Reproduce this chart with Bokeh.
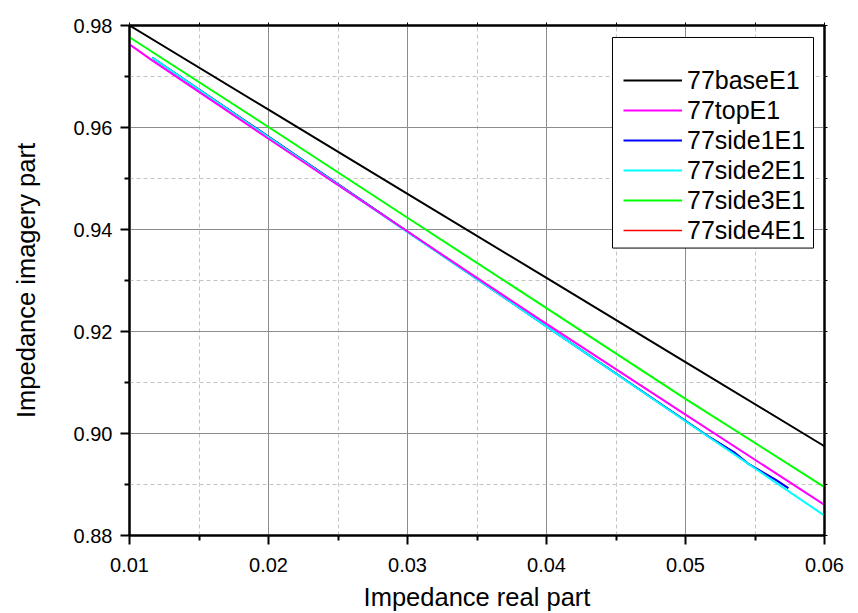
from bokeh.plotting import figure
from bokeh.models import (FixedTicker, LinearAxis, Legend, LegendItem, Range1d,
                          PrintfTickFormatter, CustomJSTickFormatter, BoxAnnotation)
from bokeh.embed import file_html
from bokeh.resources import INLINE

# ---------------- data ----------------
x_major = [0.01, 0.02, 0.03, 0.04, 0.05, 0.06]
x_minor = [0.015, 0.025, 0.035, 0.045, 0.055]
y_major = [0.88, 0.90, 0.92, 0.94, 0.96, 0.98]
y_minor = [0.89, 0.91, 0.93, 0.95, 0.97]

base_x = [0.01, 0.02, 0.03, 0.04, 0.05, 0.06]
base_y = [0.9800, 0.9635, 0.9470, 0.9305, 0.9140, 0.8975]

top_x = [0.01, 0.0116, 0.02, 0.03, 0.035, 0.04, 0.05, 0.06]
top_y = [0.9763, 0.9732, 0.9578, 0.9396, 0.9305, 0.9215, 0.9037, 0.8860]

side1_x = [0.01163, 0.02, 0.03, 0.04, 0.05, 0.0515, 0.0528, 0.0535, 0.0545, 0.0555, 0.0565, 0.0574]
side1_y = [0.9737, 0.9582, 0.9396, 0.9210, 0.9025, 0.8997, 0.8975, 0.8963, 0.8941, 0.8925, 0.8909, 0.8893]

side2_x = [0.01163, 0.02, 0.03, 0.04, 0.05, 0.06]
side2_y = [0.9737, 0.9581, 0.9395, 0.9210, 0.9024, 0.8839]

side3_x = [0.01, 0.02, 0.03, 0.04, 0.05, 0.06]
side3_y = [0.9777, 0.9601, 0.9423, 0.9246, 0.9068, 0.8895]

side4_x = side1_x
side4_y = side1_y

labels = ["77baseE1", "77topE1", "77side1E1", "77side2E1", "77side3E1", "77side4E1"]
colors = ["#000000", "#ff00ff", "#0000ff", "#00ffff", "#00ff00", "#ff0000"]

FONT = "Liberation Sans"

p = figure(width=858, height=613, x_range=Range1d(0.01, 0.06), y_range=Range1d(0.88, 0.98),
           output_backend="svg", toolbar_location=None,
           min_border_left=129, min_border_right=34, min_border_top=25, min_border_bottom=77,
           background_fill_color="white", border_fill_color="white")

p.outline_line_color = "black"
p.outline_line_width = 2

# axes
p.xaxis.ticker = FixedTicker(ticks=x_major, minor_ticks=x_minor)
p.yaxis.ticker = FixedTicker(ticks=y_major, minor_ticks=y_minor)
p.xaxis.formatter = PrintfTickFormatter(format="%.2f")
p.yaxis.formatter = PrintfTickFormatter(format="%.2f")
p.xaxis.axis_label = "Impedance real part"
p.yaxis.axis_label = "Impedance imagery part"
for ax in (p.xaxis[0], p.yaxis[0]):
    ax.axis_line_width = 2
    ax.axis_line_color = "black"
    ax.major_tick_line_width = 2
    ax.minor_tick_line_width = 2
    ax.major_tick_in = 0
    ax.major_tick_out = 9
    ax.minor_tick_in = 0
    ax.minor_tick_out = 5
    ax.major_label_text_font = FONT
    ax.major_label_text_font_size = "20px"
    ax.major_label_text_color = "black"
    ax.axis_label_text_font = FONT
    ax.axis_label_text_font_size = "25.5px"
    ax.axis_label_text_font_style = "normal"
    ax.axis_label_text_color = "black"
p.xaxis.major_label_standoff = 13
p.yaxis.major_label_standoff = 8
p.xaxis.axis_label_standoff = 8
p.yaxis.axis_label_standoff = 31

# opposite axes (no labels)
for loc, rng_ticks in (("right", (y_major, y_minor)), ("above", (x_major, x_minor))):
    ax = LinearAxis(ticker=FixedTicker(ticks=rng_ticks[0], minor_ticks=rng_ticks[1]),
                    formatter=CustomJSTickFormatter(code="return ''"),
                    axis_line_width=2, major_tick_in=0, major_tick_out=3,
                    minor_tick_in=0, minor_tick_out=3, major_tick_line_width=1,
                    minor_tick_line_width=1, major_label_standoff=0,
                    major_label_text_font_size="1px")
    p.add_layout(ax, loc)

# grids
p.xgrid.ticker = FixedTicker(ticks=x_major, minor_ticks=x_minor)
p.ygrid.ticker = FixedTicker(ticks=y_major, minor_ticks=y_minor)
for g in (p.xgrid[0], p.ygrid[0]):
    g.grid_line_color = "#8c8c8c"
    g.grid_line_width = 1
    g.minor_grid_line_color = "#c4c4c4"
    g.minor_grid_line_dash = "4 3"
    g.minor_grid_line_width = 1

# lines (draw order: red, blue, cyan, magenta, green, black)
r_side4 = p.line(side4_x, side4_y, line_color=colors[5], line_width=1.5)
r_side1 = p.line(side1_x, side1_y, line_color=colors[2], line_width=2)
r_side2 = p.line(side2_x, side2_y, line_color=colors[3], line_width=2)
r_top = p.line(top_x, top_y, line_color=colors[1], line_width=2)
r_side3 = p.line(side3_x, side3_y, line_color=colors[4], line_width=2)
r_base = p.line(base_x, base_y, line_color=colors[0], line_width=2)

# legend frame
box = BoxAnnotation(left=0.044748, right=0.059209, top=0.977652, bottom=0.936360,
                    fill_color="white", fill_alpha=1, line_color="black", line_width=1,
                    line_alpha=1)
p.add_layout(box)

renderers = [r_base, r_top, r_side1, r_side2, r_side3, r_side4]
items = [LegendItem(label=l, renderers=[r]) for l, r in zip(labels, renderers)]
legend = Legend(items=items, location=(494, 290),
                label_text_font=FONT, label_text_font_size="25px", label_text_color="black",
                label_height=30, glyph_height=30, glyph_width=59,
                label_standoff=5, spacing=0, padding=0, margin=0,
                border_line_alpha=0, background_fill_alpha=0)
legend.label_text_baseline = "middle"
p.add_layout(legend)

open("out.html", "w").write(file_html(p, INLINE))
